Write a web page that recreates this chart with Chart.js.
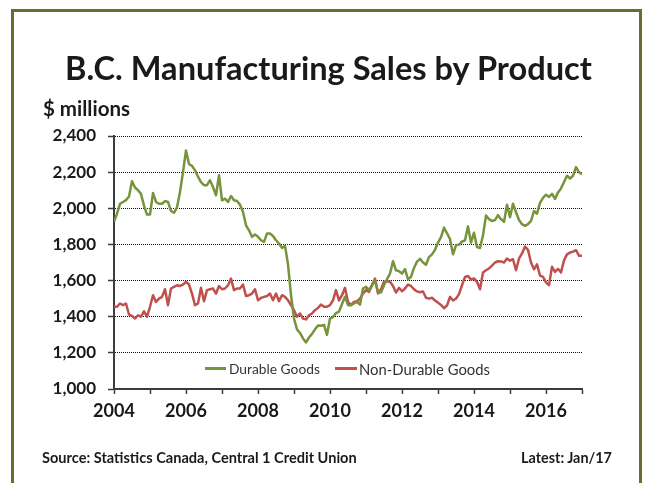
<!DOCTYPE html>
<html>
<head>
<meta charset="utf-8">
<script src="https://cdn.jsdelivr.net/npm/chart.js@4.4.1/dist/chart.umd.min.js"></script>
<style>
  html, body { margin: 0; padding: 0; background: #fff; }
  body { width: 652px; height: 483px; overflow: hidden; position: relative; font-family: Lato, "Open Sans", sans-serif; color: #1a1a1a; }
  #frame { position: absolute; left: 11px; top: 9px; width: 631px; height: 520px; border: 3px solid #6b6b32; box-sizing: border-box; }
  .txt { position: absolute; white-space: nowrap; line-height: 1; }
  #title { font-weight: bold; }
  #units { font-weight: bold; }
  .src { font-weight: bold; }
  .leg { position: absolute; white-space: nowrap; line-height: 1; color: #333; }
  .sw { position: absolute; height: 3px; }
  canvas { position: absolute; left: 0; top: 0; }
</style>
</head>
<body>
<div id="frame"></div>
<canvas id="c" width="652" height="483"></canvas>
<div id="title" class="txt" data-l="65" data-r="592" data-cy="68">B.C. Manufacturing Sales by Product</div>
<div id="units" class="txt" data-l="43" data-r="130" data-cy="108">$ millions</div>
<div class="sw" style="left:205px; top:367px; width:21px; background:#77933c;"></div>
<div class="leg" data-l="229" data-r="320" data-cy="369">Durable Goods</div>
<div class="sw" style="left:335px; top:367px; width:22px; background:#c0504d;"></div>
<div class="leg" data-l="359" data-r="490" data-cy="369">Non-Durable Goods</div>
<div class="txt src" data-l="42" data-r="357" data-cy="458">Source: Statistics Canada, Central 1 Credit Union</div>
<div class="txt src" data-l="521" data-r="612" data-cy="458">Latest: Jan/17</div>
<script>
// ---- data (monthly, Jan 2004 .. Jan 2017), $ millions ----
const tickYears = [2004, 2005, 2006, 2007, 2008, 2009, 2010, 2011, 2012, 2013, 2014, 2015, 2016, 2017];
const xTickLabels = ['2004', '2006', '2008', '2010', '2012', '2014', '2016'];
const yTickValues = [1000, 1200, 1400, 1600, 1800, 2000, 2200, 2400];
const seriesNames = ['Durable Goods', 'Non-Durable Goods'];

const durable = [
  1925, 1970, 2025, 2035, 2045, 2065, 2150, 2115, 2100, 2080, 2015, 1965,
  1965, 2085, 2035, 2025, 2025, 2040, 2035, 1985, 1975, 2005, 2090, 2200,
  2320, 2245, 2235, 2210, 2175, 2145, 2128, 2128, 2155, 2118, 2072, 2183,
  2044, 2053, 2035, 2068, 2044, 2040, 2020, 1980, 1906, 1878, 1842, 1855,
  1842, 1823, 1814, 1860, 1860, 1847, 1823, 1805, 1781, 1792, 1690, 1520,
  1390, 1330, 1310, 1280, 1258, 1285, 1305, 1330, 1352, 1350, 1355, 1300,
  1390, 1398, 1420, 1428, 1470, 1510, 1464, 1464, 1473, 1482, 1467, 1556,
  1565, 1547, 1574, 1602, 1537, 1534, 1574, 1607, 1639, 1707, 1657, 1652,
  1639, 1663, 1607, 1620, 1670, 1705, 1720, 1700, 1688, 1730, 1745, 1770,
  1810, 1840, 1893, 1862, 1830, 1745, 1795, 1799, 1815, 1823, 1900, 1810,
  1865, 1785, 1780, 1850, 1960, 1940, 1930, 1935, 1962, 1940, 1925, 2020,
  1950, 2025, 1978, 1935, 1912, 1903, 1912, 1930, 1985, 1970, 2030, 2058,
  2075, 2063, 2080, 2052, 2088, 2110, 2145, 2180, 2165, 2180, 2228, 2200,
  2188
];
const nonDurable = [
  1455, 1455, 1473, 1464, 1473, 1412, 1405, 1390, 1408, 1400, 1430, 1400,
  1455, 1519, 1482, 1500, 1510, 1552, 1464, 1556, 1565, 1574, 1570, 1578,
  1593, 1578, 1528, 1464, 1473, 1560, 1486, 1547, 1552, 1556, 1528, 1570,
  1552, 1556, 1574, 1611, 1547, 1556, 1556, 1578, 1515, 1519, 1528, 1552,
  1491, 1504, 1510, 1515, 1528, 1491, 1528, 1486, 1519, 1510, 1491, 1464,
  1436, 1400, 1418, 1390, 1385, 1408, 1418, 1436, 1449, 1467, 1455, 1455,
  1464, 1491, 1547, 1490, 1519, 1560, 1482, 1464, 1482, 1486, 1500, 1528,
  1547, 1537, 1574, 1611, 1528, 1552, 1593, 1596, 1593, 1570, 1534, 1560,
  1541, 1556, 1578, 1570, 1552, 1540, 1535, 1540, 1505, 1500, 1505, 1490,
  1478, 1465, 1447, 1462, 1510, 1490, 1500, 1525, 1575, 1620, 1625, 1605,
  1612, 1593, 1552, 1645, 1657, 1667, 1683, 1700, 1707, 1706, 1700, 1722,
  1710, 1718, 1657, 1722, 1750, 1788, 1770, 1700, 1662, 1690, 1628, 1620,
  1590, 1575, 1676, 1648, 1665, 1645, 1712, 1745, 1755, 1760, 1768, 1738,
  1737
];

// month categories
const months = [];
for (let y = 2004; y <= 2017; y++) {
  for (let m = 1; m <= 12; m++) {
    if (y === 2017 && m > 1) break;
    months.push(y + '-' + String(m).padStart(2, '0'));
  }
}
const toPts = arr => arr.map((v, i) => ({ x: i, y: v }));

// ---- text fitting ----
function fitText(el) {
  const l = +el.dataset.l, r = +el.dataset.r, cy = +el.dataset.cy;
  el.style.fontSize = '100px';
  const w = el.getBoundingClientRect().width;
  const size = 100 * (r - l) / w;
  el.style.fontSize = size + 'px';
  const h = el.getBoundingClientRect().height;
  el.style.left = l + 'px';
  el.style.top = (cy - h / 2) + 'px';
}
document.querySelectorAll('[data-l]').forEach(fitText);

const axisColor = '#3c3c3c';

new Chart(document.getElementById('c'), {
  type: 'line',
  data: {
    labels: months,
    datasets: [
      { label: seriesNames[0], data: toPts(durable), borderColor: '#77933c', backgroundColor: '#77933c', borderWidth: 2.5, pointRadius: 0, tension: 0, borderJoinStyle: 'round' },
      { label: seriesNames[1], data: toPts(nonDurable), borderColor: '#c0504d', backgroundColor: '#c0504d', borderWidth: 2.5, pointRadius: 0, tension: 0, borderJoinStyle: 'round' }
    ]
  },
  options: {
    responsive: false,
    animation: false,
    devicePixelRatio: 1,
    layout: { padding: { left: 0, right: 70, top: 136, bottom: 0 } },
    plugins: { legend: { display: false }, title: { display: false }, tooltip: { enabled: false } },
    scales: {
      x: {
        type: 'linear', min: 0, max: months.length - 1,
        afterBuildTicks: s => { s.ticks = tickYears.map(y => ({ value: months.indexOf(y + '-01') })); },
        afterFit: s => { s.height = 94; },
        ticks: {
          autoSkip: false, maxRotation: 0, padding: 6, color: '#1a1a1a', font: { family: 'Lato', weight: 'bold', size: 18 },
          callback: (v) => { const lab = months[v] ? months[v].slice(0, 4) : ''; return xTickLabels.includes(lab) ? lab : ''; }
        },
        grid: { drawOnChartArea: false, drawTicks: true, tickLength: 5, tickColor: axisColor, tickWidth: 1.5 },
        border: { color: axisColor, width: 2 }
      },
      y: {
        min: 1000, max: 2400,
        afterBuildTicks: s => { s.ticks = yTickValues.map(v => ({ value: v })); },
        afterFit: s => { s.width = 114; },
        ticks: { padding: 12, color: '#1a1a1a', font: { family: 'Lato', weight: 'bold', size: 17 }, callback: v => v.toLocaleString('en-US') },
        grid: { color: '#111', lineWidth: 1, tickLength: 6, tickColor: axisColor, tickWidth: 1.5, tickBorderDash: [] },
        border: { color: axisColor, width: 2, dash: [1, 1] }
      }
    }
  }
});
</script>
</body>
</html>
